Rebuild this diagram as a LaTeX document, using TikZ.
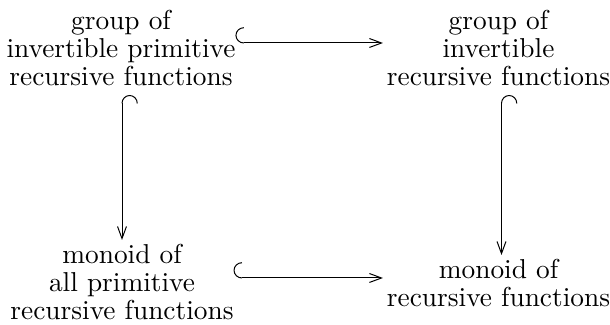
\documentclass[tikz,border=0pt]{standalone}
\usetikzlibrary{arrows.meta,calc}
\begin{document}
\begin{tikzpicture}[x=0.3802pt,y=-0.3802pt,
  lbl/.style={align=center,inner sep=0pt,outer sep=0pt,anchor=base,font=\fontsize{10.4}{10.7}\selectfont},
  hookarr/.style={line width=0.38pt,{Hooks[right,length=3.2pt,width=12pt]}-{Straight Barb[length=4.6pt,width=3.4pt]}}]
\useasboundingbox (0,0) rectangle (610,325);
\node[lbl] (tl) at (121,86) {group of\\invertible primitive\\recursive functions};
\node[lbl] (tr) at (498.5,86) {group of\\invertible\\recursive functions};
\node[lbl] (bl) at (122,320) {monoid of\\all primitive\\recursive functions};
\node[lbl] (br) at (498.5,307) {monoid of\\recursive functions};
\draw[hookarr] ($(tl.base east)+(0,-43)$) -- ($(tr.base west)+(-4,-43)$);
\draw[hookarr] ($(bl.base east)+(0,-42)$) -- ($(br.base west)+(-4,-29)$);
\draw[hookarr] ($(tl.base)+(1,9)$) -- ($(bl.base)+(0,-80)$);
\draw[hookarr] ($(tr.base)+(3,9)$) -- ($(br.base)+(3,-52)$);
\end{tikzpicture}
\end{document}
